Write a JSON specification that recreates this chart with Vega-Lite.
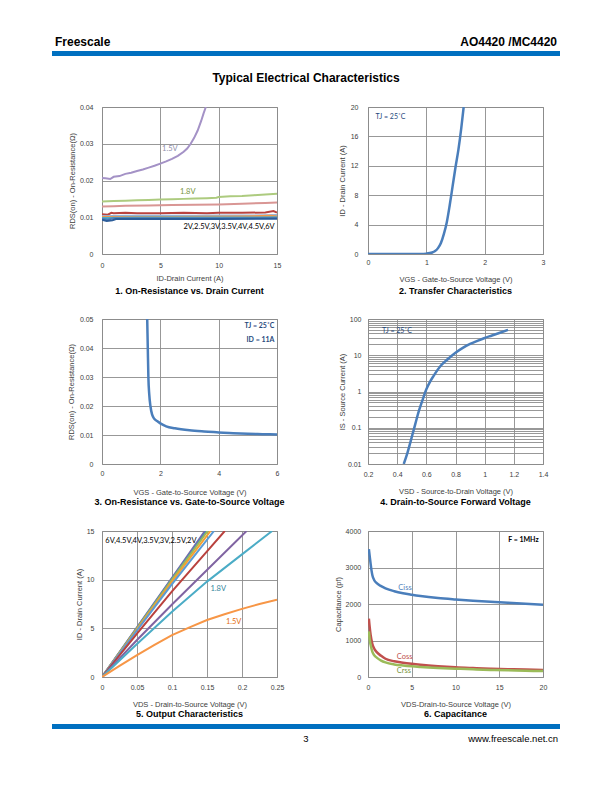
{
  "$schema": "https://vega.github.io/schema/vega-lite/v6.json",
  "padding": {"top": 35, "left": 52, "right": 0, "bottom": 0},
  "background": "white",
  "spacing": 4,
  "config": {
    "font": "Liberation Sans",
    "view": {"stroke": "#8c8c8c", "strokeWidth": 1},
    "axis": {
      "grid": true, "gridColor": "#8c8c8c", "gridWidth": 0.9,
      "domain": false, "ticks": false, "tickSize": 0,
      "labelFlush": false, "labelOverlap": false,
      "labelFont": "Liberation Sans", "labelFontSize": 7, "labelColor": "#404040",
      "titleFont": "Liberation Sans", "titleFontSize": 7.5, "titleColor": "#404040", "titleFontWeight": "normal"
    },
    "title": {"font": "Liberation Sans", "fontSize": 9, "fontWeight": "bold", "color": "#000000", "anchor": "middle"},
    "text": {"font": "Lato", "fontSize": 7.5, "baseline": "middle"}
  },
  "datasets": {
    "p1": [
      {"s": "1.5V", "x": 0, "y": 0.0207}, {"s": "1.5V", "x": 0.3, "y": 0.0206}, {"s": "1.5V", "x": 0.7, "y": 0.0204}, {"s": "1.5V", "x": 1, "y": 0.021}, {"s": "1.5V", "x": 1.5, "y": 0.0212}, {"s": "1.5V", "x": 2, "y": 0.0218}, {"s": "1.5V", "x": 2.5, "y": 0.0221}, {"s": "1.5V", "x": 3, "y": 0.0226}, {"s": "1.5V", "x": 3.5, "y": 0.023}, {"s": "1.5V", "x": 4, "y": 0.0235}, {"s": "1.5V", "x": 4.5, "y": 0.024}, {"s": "1.5V", "x": 5, "y": 0.0246}, {"s": "1.5V", "x": 5.5, "y": 0.0252}, {"s": "1.5V", "x": 6, "y": 0.0259}, {"s": "1.5V", "x": 6.5, "y": 0.0267}, {"s": "1.5V", "x": 7, "y": 0.0278}, {"s": "1.5V", "x": 7.3, "y": 0.0287}, {"s": "1.5V", "x": 7.6, "y": 0.03}, {"s": "1.5V", "x": 7.9, "y": 0.0316}, {"s": "1.5V", "x": 8.2, "y": 0.0336}, {"s": "1.5V", "x": 8.5, "y": 0.0362}, {"s": "1.5V", "x": 8.7, "y": 0.0382}, {"s": "1.5V", "x": 8.9, "y": 0.04},
      {"s": "1.8V", "x": 0, "y": 0.0143}, {"s": "1.8V", "x": 1, "y": 0.0144}, {"s": "1.8V", "x": 2, "y": 0.0145}, {"s": "1.8V", "x": 3, "y": 0.0146}, {"s": "1.8V", "x": 4, "y": 0.0147}, {"s": "1.8V", "x": 5, "y": 0.0148}, {"s": "1.8V", "x": 6, "y": 0.0149}, {"s": "1.8V", "x": 7, "y": 0.015}, {"s": "1.8V", "x": 8, "y": 0.0151}, {"s": "1.8V", "x": 9, "y": 0.0152}, {"s": "1.8V", "x": 9.8, "y": 0.0153}, {"s": "1.8V", "x": 10, "y": 0.0155}, {"s": "1.8V", "x": 11, "y": 0.0157}, {"s": "1.8V", "x": 12, "y": 0.0158}, {"s": "1.8V", "x": 13, "y": 0.016}, {"s": "1.8V", "x": 14, "y": 0.0162}, {"s": "1.8V", "x": 15, "y": 0.0164},
      {"s": "2V", "x": 0, "y": 0.0129}, {"s": "2V", "x": 1, "y": 0.013}, {"s": "2V", "x": 2, "y": 0.0131}, {"s": "2V", "x": 4, "y": 0.0132}, {"s": "2V", "x": 6, "y": 0.0133}, {"s": "2V", "x": 8, "y": 0.0134}, {"s": "2V", "x": 10, "y": 0.0135}, {"s": "2V", "x": 12, "y": 0.0137}, {"s": "2V", "x": 14, "y": 0.0139}, {"s": "2V", "x": 15, "y": 0.014},
      {"s": "2.5V", "x": 0, "y": 0.0108}, {"s": "2.5V", "x": 0.5, "y": 0.0107}, {"s": "2.5V", "x": 0.8, "y": 0.0112}, {"s": "2.5V", "x": 1, "y": 0.0111}, {"s": "2.5V", "x": 2, "y": 0.0112}, {"s": "2.5V", "x": 3, "y": 0.0111}, {"s": "2.5V", "x": 5, "y": 0.0111}, {"s": "2.5V", "x": 7, "y": 0.0112}, {"s": "2.5V", "x": 9, "y": 0.0111}, {"s": "2.5V", "x": 10, "y": 0.0112}, {"s": "2.5V", "x": 12, "y": 0.0112}, {"s": "2.5V", "x": 14, "y": 0.0113}, {"s": "2.5V", "x": 14.7, "y": 0.0117}, {"s": "2.5V", "x": 15, "y": 0.0113},
      {"s": "3V", "x": 0, "y": 0.0103}, {"s": "3V", "x": 2, "y": 0.0104}, {"s": "3V", "x": 5, "y": 0.0104}, {"s": "3V", "x": 8, "y": 0.0104}, {"s": "3V", "x": 10, "y": 0.0105}, {"s": "3V", "x": 13, "y": 0.0105}, {"s": "3V", "x": 15, "y": 0.0106},
      {"s": "3.5V", "x": 0, "y": 0.0101}, {"s": "3.5V", "x": 3, "y": 0.0101}, {"s": "3.5V", "x": 6, "y": 0.0101}, {"s": "3.5V", "x": 9, "y": 0.01015}, {"s": "3.5V", "x": 12, "y": 0.0102}, {"s": "3.5V", "x": 14.5, "y": 0.0104}, {"s": "3.5V", "x": 15, "y": 0.0102},
      {"s": "4V", "x": 0, "y": 0.0098}, {"s": "4V", "x": 3, "y": 0.0099}, {"s": "4V", "x": 7, "y": 0.0099}, {"s": "4V", "x": 11, "y": 0.0099}, {"s": "4V", "x": 15, "y": 0.01},
      {"s": "4.5V", "x": 0, "y": 0.0096}, {"s": "4.5V", "x": 0.5, "y": 0.0094}, {"s": "4.5V", "x": 1, "y": 0.0097}, {"s": "4.5V", "x": 4, "y": 0.0097}, {"s": "4.5V", "x": 8, "y": 0.0097}, {"s": "4.5V", "x": 12, "y": 0.0097}, {"s": "4.5V", "x": 15, "y": 0.0098},
      {"s": "6V", "x": 0, "y": 0.0093}, {"s": "6V", "x": 0.4, "y": 0.009}, {"s": "6V", "x": 0.9, "y": 0.0092}, {"s": "6V", "x": 1.2, "y": 0.0095}, {"s": "6V", "x": 5, "y": 0.0095}, {"s": "6V", "x": 10, "y": 0.0095}, {"s": "6V", "x": 15, "y": 0.0096}
    ],
    "p2": [
      {"x": 0, "y": 0}, {"x": 0.5, "y": 0}, {"x": 0.9, "y": 0.01}, {"x": 1.0, "y": 0.05}, {"x": 1.1, "y": 0.2}, {"x": 1.15, "y": 0.4}, {"x": 1.2, "y": 0.8}, {"x": 1.25, "y": 1.5}, {"x": 1.3, "y": 2.7}, {"x": 1.35, "y": 4.3}, {"x": 1.4, "y": 6.6}, {"x": 1.45, "y": 9.2}, {"x": 1.5, "y": 11.8}, {"x": 1.55, "y": 14.2}, {"x": 1.6, "y": 17.2}, {"x": 1.64, "y": 20}
    ],
    "p3": [
      {"x": 1.55, "y": 0.05}, {"x": 1.57, "y": 0.04}, {"x": 1.59, "y": 0.03}, {"x": 1.62, "y": 0.024}, {"x": 1.66, "y": 0.02}, {"x": 1.72, "y": 0.017}, {"x": 1.8, "y": 0.0155}, {"x": 1.9, "y": 0.0147}, {"x": 2.0, "y": 0.014}, {"x": 2.2, "y": 0.013}, {"x": 2.5, "y": 0.0123}, {"x": 3.0, "y": 0.0116}, {"x": 3.5, "y": 0.0112}, {"x": 4.0, "y": 0.0109}, {"x": 4.5, "y": 0.0106}, {"x": 5.0, "y": 0.0104}, {"x": 5.5, "y": 0.0103}, {"x": 6.0, "y": 0.0102}
    ],
    "p4": [
      {"x": 0.445, "y": 0.01}, {"x": 0.47, "y": 0.02}, {"x": 0.5, "y": 0.055}, {"x": 0.525, "y": 0.13}, {"x": 0.55, "y": 0.3}, {"x": 0.575, "y": 0.6}, {"x": 0.6, "y": 1.15}, {"x": 0.625, "y": 1.85}, {"x": 0.65, "y": 2.7}, {"x": 0.7, "y": 5.2}, {"x": 0.75, "y": 8.0}, {"x": 0.8, "y": 11.7}, {"x": 0.85, "y": 16}, {"x": 0.9, "y": 20.5}, {"x": 0.95, "y": 25}, {"x": 1.0, "y": 30}, {"x": 1.05, "y": 35}, {"x": 1.1, "y": 41}, {"x": 1.16, "y": 50}
    ],
    "p5": [
      {"s": "6V", "x": 0, "y": 0}, {"s": "6V", "x": 0.05, "y": 5.1}, {"s": "6V", "x": 0.1, "y": 10.2}, {"s": "6V", "x": 0.147, "y": 15},
      {"s": "4.5V", "x": 0, "y": 0}, {"s": "4.5V", "x": 0.05, "y": 5.05}, {"s": "4.5V", "x": 0.1, "y": 10.1}, {"s": "4.5V", "x": 0.149, "y": 15},
      {"s": "4V", "x": 0, "y": 0}, {"s": "4V", "x": 0.05, "y": 5}, {"s": "4V", "x": 0.1, "y": 10}, {"s": "4V", "x": 0.151, "y": 15},
      {"s": "3.5V", "x": 0, "y": 0}, {"s": "3.5V", "x": 0.05, "y": 4.9}, {"s": "3.5V", "x": 0.1, "y": 9.8}, {"s": "3.5V", "x": 0.155, "y": 15},
      {"s": "3V", "x": 0, "y": 0}, {"s": "3V", "x": 0.05, "y": 4.8}, {"s": "3V", "x": 0.1, "y": 9.55}, {"s": "3V", "x": 0.16, "y": 15},
      {"s": "2.5V", "x": 0, "y": 0}, {"s": "2.5V", "x": 0.05, "y": 4.45}, {"s": "2.5V", "x": 0.1, "y": 8.8}, {"s": "2.5V", "x": 0.15, "y": 12.9}, {"s": "2.5V", "x": 0.1754, "y": 15},
      {"s": "2V", "x": 0, "y": 0}, {"s": "2V", "x": 0.05, "y": 3.8}, {"s": "2V", "x": 0.1, "y": 7.45}, {"s": "2V", "x": 0.15, "y": 11.0}, {"s": "2V", "x": 0.2065, "y": 15},
      {"s": "1.8V", "x": 0, "y": 0}, {"s": "1.8V", "x": 0.05, "y": 3.4}, {"s": "1.8V", "x": 0.1, "y": 6.7}, {"s": "1.8V", "x": 0.15, "y": 9.8}, {"s": "1.8V", "x": 0.2, "y": 12.6}, {"s": "1.8V", "x": 0.243, "y": 15},
      {"s": "1.5V", "x": 0, "y": 0}, {"s": "1.5V", "x": 0.025, "y": 1.15}, {"s": "1.5V", "x": 0.05, "y": 2.25}, {"s": "1.5V", "x": 0.075, "y": 3.3}, {"s": "1.5V", "x": 0.1, "y": 4.3}, {"s": "1.5V", "x": 0.125, "y": 5.1}, {"s": "1.5V", "x": 0.15, "y": 5.85}, {"s": "1.5V", "x": 0.175, "y": 6.45}, {"s": "1.5V", "x": 0.2, "y": 7.0}, {"s": "1.5V", "x": 0.225, "y": 7.5}, {"s": "1.5V", "x": 0.25, "y": 7.95}
    ],
    "p6": [
      {"s": "Ciss", "x": 0.1, "y": 3500}, {"s": "Ciss", "x": 0.2, "y": 3300}, {"s": "Ciss", "x": 0.3, "y": 3100}, {"s": "Ciss", "x": 0.4, "y": 2920}, {"s": "Ciss", "x": 0.5, "y": 2790}, {"s": "Ciss", "x": 0.7, "y": 2660}, {"s": "Ciss", "x": 1, "y": 2570}, {"s": "Ciss", "x": 1.5, "y": 2490}, {"s": "Ciss", "x": 2, "y": 2430}, {"s": "Ciss", "x": 3, "y": 2350}, {"s": "Ciss", "x": 4, "y": 2295}, {"s": "Ciss", "x": 5, "y": 2255}, {"s": "Ciss", "x": 6, "y": 2220}, {"s": "Ciss", "x": 8, "y": 2165}, {"s": "Ciss", "x": 10, "y": 2125}, {"s": "Ciss", "x": 12, "y": 2090}, {"s": "Ciss", "x": 14, "y": 2060}, {"s": "Ciss", "x": 16, "y": 2035}, {"s": "Ciss", "x": 18, "y": 2005}, {"s": "Ciss", "x": 20, "y": 1980},
      {"s": "Coss", "x": 0.1, "y": 1600}, {"s": "Coss", "x": 0.2, "y": 1350}, {"s": "Coss", "x": 0.3, "y": 1150}, {"s": "Coss", "x": 0.5, "y": 900}, {"s": "Coss", "x": 0.7, "y": 780}, {"s": "Coss", "x": 1, "y": 680}, {"s": "Coss", "x": 1.5, "y": 580}, {"s": "Coss", "x": 2, "y": 500}, {"s": "Coss", "x": 3, "y": 430}, {"s": "Coss", "x": 4, "y": 390}, {"s": "Coss", "x": 5, "y": 360}, {"s": "Coss", "x": 6, "y": 335}, {"s": "Coss", "x": 8, "y": 295}, {"s": "Coss", "x": 10, "y": 265}, {"s": "Coss", "x": 12, "y": 245}, {"s": "Coss", "x": 14, "y": 228}, {"s": "Coss", "x": 16, "y": 215}, {"s": "Coss", "x": 18, "y": 205}, {"s": "Coss", "x": 20, "y": 195},
      {"s": "Crss", "x": 0.1, "y": 1250}, {"s": "Crss", "x": 0.2, "y": 1020}, {"s": "Crss", "x": 0.3, "y": 880}, {"s": "Crss", "x": 0.5, "y": 690}, {"s": "Crss", "x": 0.7, "y": 600}, {"s": "Crss", "x": 1, "y": 530}, {"s": "Crss", "x": 1.5, "y": 450}, {"s": "Crss", "x": 2, "y": 400}, {"s": "Crss", "x": 3, "y": 345}, {"s": "Crss", "x": 4, "y": 315}, {"s": "Crss", "x": 5, "y": 292}, {"s": "Crss", "x": 6, "y": 275}, {"s": "Crss", "x": 8, "y": 248}, {"s": "Crss", "x": 10, "y": 228}, {"s": "Crss", "x": 12, "y": 210}, {"s": "Crss", "x": 14, "y": 195}, {"s": "Crss", "x": 16, "y": 183}, {"s": "Crss", "x": 18, "y": 172}, {"s": "Crss", "x": 20, "y": 162}
    ]
  },
  "vconcat": [
    {
      "width": 508, "height": 5,
      "view": {"fill": "#0070C0", "stroke": null},
      "data": {"values": [{}]},
      "layer": [
        {"mark": {"type": "text", "text": "Freescale", "font": "Liberation Sans", "fontSize": 12, "fontWeight": "bold", "color": "#000000", "align": "left", "baseline": "middle", "dx": 3, "dy": -12},
         "encoding": {"x": {"datum": 0, "type": "quantitative", "scale": {"domain": [0, 1]}, "axis": null}}},
        {"mark": {"type": "text", "text": "AO4420 /MC4420", "font": "Liberation Sans", "fontSize": 12, "fontWeight": "bold", "color": "#000000", "align": "right", "baseline": "middle", "dx": -3, "dy": -12},
         "encoding": {"x": {"datum": 1, "type": "quantitative", "scale": {"domain": [0, 1]}, "axis": null}}}
      ]
    },
    {
      "width": 508, "height": 38,
      "view": {"stroke": null},
      "data": {"values": [{}]},
      "mark": {"type": "text", "text": "Typical Electrical Characteristics", "font": "Liberation Sans", "fontSize": 12, "fontWeight": "bold", "color": "#000000", "align": "center", "baseline": "middle", "dy": -1},
      "encoding": {"x": {"datum": 0.5, "type": "quantitative", "scale": {"domain": [0, 1]}, "axis": null}}
    },
    {
      "hconcat": [
        {
          "width": 50, "height": 10,
          "view": {"stroke": null},
          "data": {"values": []},
          "mark": {"type": "text"}
        },
        {
          "columns": 2,
          "spacing": {"row": 65, "column": 91},
          "bounds": "flush",
          "align": "all",
          "resolve": {"scale": {"color": "independent"}},
          "concat": [
            {
              "width": 175, "height": 147,
              "title": {"text": "1. On-Resistance vs. Drain Current", "orient": "bottom", "offset": 4.5},
              "encoding": {
                "x": {"field": "x", "type": "quantitative", "scale": {"domain": [0, 15], "nice": false}, "axis": {"values": [0, 5, 10, 15], "title": "ID-Drain Current (A)", "labelPadding": 7, "titlePadding": 6.8}},
                "y": {"field": "y", "type": "quantitative", "scale": {"domain": [0, 0.04], "nice": false}, "axis": {"values": [0, 0.01, 0.02, 0.03, 0.04], "format": "~g", "title": "RDS(on) - On-Resistance(Ω)", "labelPadding": 9, "titlePadding": 3}}
              },
              "layer": [
                {"data": {"name": "p1"}, "mark": {"type": "line", "strokeWidth": 2, "clip": true},
                 "encoding": {"color": {"field": "s", "type": "nominal", "legend": null,
                   "scale": {"domain": ["6V", "4.5V", "4V", "3.5V", "3V", "2.5V", "2V", "1.8V", "1.5V"], "range": ["#2C5D9A", "#4F81BD", "#4BACC6", "#F79646", "#95B3D7", "#B9433F", "#D99694", "#ADCB7F", "#A492C6"]}}}},
                {"data": {"values": [{"x": 5.15, "y": 0.0287, "t": "1.5V"}]}, "mark": {"type": "text", "align": "left", "color": "#8E8EAA"}, "encoding": {"text": {"field": "t"}}},
                {"data": {"values": [{"x": 6.68, "y": 0.0169, "t": "1.8V"}]}, "mark": {"type": "text", "align": "left", "color": "#76923C"}, "encoding": {"text": {"field": "t"}}},
                {"data": {"values": [{"x": 14.8, "y": 0.0073, "t": "2V,2.5V,3V,3.5V,4V,4.5V,6V"}]}, "mark": {"type": "text", "align": "right", "color": "#000000"}, "encoding": {"text": {"field": "t"}}}
              ]
            },
            {
              "width": 175, "height": 147,
              "title": {"text": "2. Transfer Characteristics", "orient": "bottom", "offset": 3.5},
              "encoding": {
                "x": {"field": "x", "type": "quantitative", "scale": {"domain": [0, 3], "nice": false}, "axis": {"values": [0, 1, 2, 3], "title": "VGS - Gate-to-Source Voltage (V)", "labelPadding": 4.7, "titlePadding": 10}},
                "y": {"field": "y", "type": "quantitative", "scale": {"domain": [0, 20], "nice": false}, "axis": {"values": [0, 4, 8, 12, 16, 20], "title": "ID - Drain Current (A)", "labelPadding": 10, "titlePadding": 4}}
              },
              "layer": [
                {"data": {"name": "p2"}, "mark": {"type": "line", "strokeWidth": 2.5, "color": "#4A7EBB", "interpolate": "monotone", "clip": true}},
                {"data": {"values": [{"x": 0.13, "y": 18.6, "t": "TJ = 25˚C"}]}, "mark": {"type": "text", "align": "left", "color": "#1F497D", "fontSize": 7}, "encoding": {"text": {"field": "t"}}}
              ]
            },
            {
              "width": 175, "height": 145,
              "title": {"text": "3. On-Resistance vs. Gate-to-Source Voltage", "orient": "bottom", "offset": 1.8},
              "encoding": {
                "x": {"field": "x", "type": "quantitative", "scale": {"domain": [0, 6], "nice": false}, "axis": {"values": [0, 2, 4, 6], "title": "VGS - Gate-to-Source Voltage (V)", "labelPadding": 5.3, "titlePadding": 12.2}},
                "y": {"field": "y", "type": "quantitative", "scale": {"domain": [0, 0.05], "nice": false}, "axis": {"values": [0, 0.01, 0.02, 0.03, 0.04, 0.05], "format": "~g", "title": "RDS(on) - On-Resistance(Ω)", "labelPadding": 9, "titlePadding": 3.4}}
              },
              "layer": [
                {"data": {"name": "p3"}, "mark": {"type": "line", "strokeWidth": 2.5, "color": "#4A7EBB", "interpolate": "monotone", "clip": true}},
                {"data": {"values": [{"x": 5.91, "y": 0.0475, "t": "TJ = 25˚C"}, {"x": 5.91, "y": 0.0429, "t": "ID = 11A"}]}, "mark": {"type": "text", "align": "right", "color": "#1F497D", "fontSize": 7, "fontWeight": "bold"}, "encoding": {"text": {"field": "t"}}}
              ]
            },
            {
              "width": 175, "height": 145,
              "title": {"text": "4. Drain-to-Source Forward Voltage", "orient": "bottom", "offset": 2.8},
              "encoding": {
                "x": {"field": "x", "type": "quantitative", "scale": {"domain": [0.2, 1.4], "nice": false}, "axis": {"values": [0.2, 0.4, 0.6, 0.8, 1, 1.2, 1.4], "format": "~g", "title": "VSD - Source-to-Drain Voltage (V)", "labelPadding": 6, "titlePadding": 10.5}},
                "y": {"field": "y", "type": "quantitative", "scale": {"type": "log", "domain": [0.01, 100], "nice": false}, "axis": {"values": [0.01, 0.02, 0.03, 0.04, 0.05, 0.06, 0.07, 0.08, 0.09, 0.1, 0.2, 0.3, 0.4, 0.5, 0.6, 0.7, 0.8, 0.9, 1, 2, 3, 4, 5, 6, 7, 8, 9, 10, 20, 30, 40, 50, 60, 70, 80, 90, 100], "format": "~g", "labelExpr": "(datum.value == 0.01 || datum.value == 0.1 || datum.value == 1 || datum.value == 10 || datum.value == 100) ? datum.label : ''", "title": "IS - Source Current (A)", "labelPadding": 7, "titlePadding": 1}}
              },
              "layer": [
                {"data": {"name": "p4"}, "mark": {"type": "line", "strokeWidth": 2.5, "color": "#4A7EBB", "interpolate": "monotone", "clip": true}},
                {"data": {"values": [{"x": 0.296, "y": 47.5, "t": "TJ = 25˚C"}]}, "mark": {"type": "text", "align": "left", "color": "#1F497D", "fontSize": 7}, "encoding": {"text": {"field": "t"}}}
              ]
            },
            {
              "width": 175, "height": 146,
              "title": {"text": "5. Output Characteristics", "orient": "bottom", "offset": 2.5},
              "encoding": {
                "x": {"field": "x", "type": "quantitative", "scale": {"domain": [0, 0.25], "nice": false}, "axis": {"values": [0, 0.05, 0.1, 0.15, 0.2, 0.25], "format": "~g", "title": "VDS - Drain-to-Source Voltage (V)", "labelPadding": 6.7, "titlePadding": 9.4}},
                "y": {"field": "y", "type": "quantitative", "scale": {"domain": [0, 15], "nice": false}, "axis": {"values": [0, 5, 10, 15], "title": "ID - Drain Current (A)", "labelPadding": 8, "titlePadding": 3}}
              },
              "layer": [
                {"data": {"name": "p5"}, "mark": {"type": "line", "strokeWidth": 2, "clip": true},
                 "encoding": {"color": {"field": "s", "type": "nominal", "legend": null,
                   "scale": {"domain": ["1.5V", "1.8V", "2V", "2.5V", "3V", "3.5V", "4V", "4.5V", "6V"], "range": ["#F79646", "#4BACC6", "#8064A2", "#B9413D", "#5B9BD5", "#F7A030", "#9BBB59", "#4F81BD", "#7E6BA6"]}}}},
                {"data": {"values": [{"x": 0.0048, "y": 13.97, "t": "6V,4.5V,4V,3.5V,3V,2.5V,2V"}]}, "mark": {"type": "text", "align": "left", "color": "#000000"}, "encoding": {"text": {"field": "t"}}},
                {"data": {"values": [{"x": 0.155, "y": 9.0, "t": "1.8V"}]}, "mark": {"type": "text", "align": "left", "color": "#31849B"}, "encoding": {"text": {"field": "t"}}},
                {"data": {"values": [{"x": 0.177, "y": 5.66, "t": "1.5V"}]}, "mark": {"type": "text", "align": "left", "color": "#E46C0A"}, "encoding": {"text": {"field": "t"}}}
              ]
            },
            {
              "width": 175, "height": 146,
              "title": {"text": "6. Capacitance", "orient": "bottom", "offset": 2.5},
              "encoding": {
                "x": {"field": "x", "type": "quantitative", "scale": {"domain": [0, 20], "nice": false}, "axis": {"values": [0, 5, 10, 15, 20], "title": "VDS-Drain-to-Source Voltage (V)", "labelPadding": 6.7, "titlePadding": 9.4}},
                "y": {"field": "y", "type": "quantitative", "scale": {"domain": [0, 4000], "nice": false}, "axis": {"values": [0, 1000, 2000, 3000, 4000], "format": "d", "title": "Capacitance (pf)", "labelPadding": 7.3, "titlePadding": 3}}
              },
              "layer": [
                {"data": {"name": "p6"}, "mark": {"type": "line", "strokeWidth": 2.5, "interpolate": "monotone", "clip": true},
                 "encoding": {"color": {"field": "s", "type": "nominal", "legend": null,
                   "scale": {"domain": ["Ciss", "Coss", "Crss"], "range": ["#4A7EBB", "#C0504D", "#9BBB59"]}}}},
                {"data": {"values": [{"x": 3.47, "y": 2444, "t": "Ciss"}]}, "mark": {"type": "text", "align": "left", "color": "#4F81BD"}, "encoding": {"text": {"field": "t"}}},
                {"data": {"values": [{"x": 3.28, "y": 549, "t": "Coss"}]}, "mark": {"type": "text", "align": "left", "color": "#C0504D"}, "encoding": {"text": {"field": "t"}}},
                {"data": {"values": [{"x": 3.28, "y": 156, "t": "Crss"}]}, "mark": {"type": "text", "align": "left", "color": "#77933C"}, "encoding": {"text": {"field": "t"}}},
                {"data": {"values": [{"x": 19.5, "y": 3753, "t": "F = 1MHz"}]}, "mark": {"type": "text", "align": "right", "color": "#000000", "fontWeight": "bold", "fontSize": 7}, "encoding": {"text": {"field": "t"}}}
              ]
            }
          ]
        }
      ],
      "spacing": 0,
      "bounds": "flush"
    },
    {
      "width": 508, "height": 5,
      "view": {"fill": "#0070C0", "stroke": null},
      "data": {"values": [{}]},
      "layer": [
        {"mark": {"type": "text", "text": "3", "font": "Liberation Sans", "fontSize": 9.5, "color": "#000000", "align": "center", "baseline": "middle", "dy": 12},
         "encoding": {"x": {"datum": 0.5, "type": "quantitative", "scale": {"domain": [0, 1]}, "axis": null}}},
        {"mark": {"type": "text", "text": "www.freescale.net.cn", "font": "Liberation Sans", "fontSize": 9.5, "color": "#000000", "align": "right", "baseline": "middle", "dx": -2, "dy": 12},
         "encoding": {"x": {"datum": 1, "type": "quantitative", "scale": {"domain": [0, 1]}, "axis": null}}}
      ]
    }
  ]
}
